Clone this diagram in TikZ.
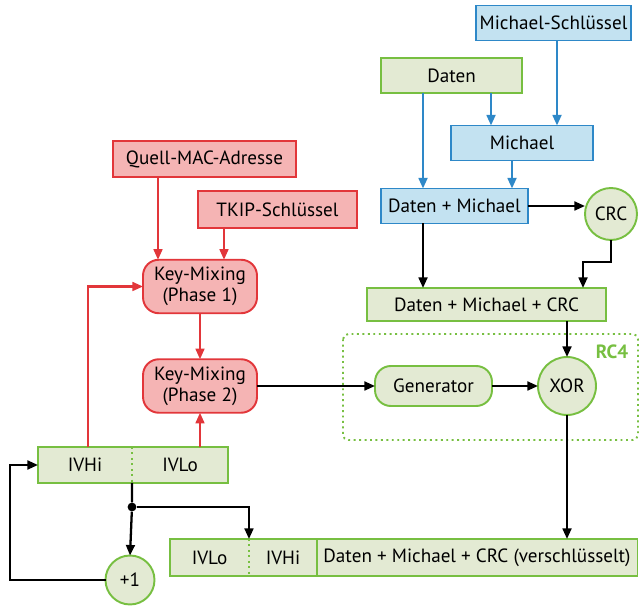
\documentclass[tikz,border=0pt]{standalone}
\usepackage{fontspec}
\setmainfont{PT Sans}
\usetikzlibrary{arrows.meta,calc}
\definecolor{rotrand}{HTML}{E2363A}
\definecolor{rotfill}{HTML}{F5B4B4}
\definecolor{blaurand}{HTML}{2E88C8}
\definecolor{blaufill}{HTML}{C3E2F1}
\definecolor{gruenrand}{HTML}{77BF41}
\definecolor{gruenfill}{HTML}{E3EAD3}
\tikzset{
  box-r/.style={draw=rotrand,fill=rotfill,line width=1.1pt,rectangle,inner sep=0pt,outer sep=0pt,minimum height=0.73cm},
  box-b/.style={draw=blaurand,fill=blaufill,line width=1.1pt,rectangle,inner sep=0pt,outer sep=0pt,minimum height=0.7cm},
  box-g/.style={draw=gruenrand,fill=gruenfill,line width=1.1pt,rectangle,inner sep=0pt,outer sep=0pt},
  mix-r/.style={box-r,rounded corners=9pt,minimum width=2.28cm,minimum height=1.07cm,align=center},
  gen-g/.style={box-g,rounded corners=9pt,minimum width=2.34cm,minimum height=0.8cm},
  circ-g/.style={draw=gruenrand,fill=gruenfill,line width=1.1pt,circle,inner sep=0pt,outer sep=0pt},
  cell-g/.style={fill=gruenfill,rectangle,inner sep=0pt,outer sep=0pt,minimum height=0.72cm},
  frame-g/.style={draw=gruenrand,line width=1.1pt},
  flow/.style={-{Triangle[length=6pt,width=5pt]},line width=1.3pt,black},
  flow-r/.style={-{Triangle[length=6pt,width=5pt]},line width=1.2pt,rotrand},
  flow-b/.style={-{Triangle[length=6pt,width=5pt]},line width=1.3pt,blaurand},
  dot/.style={circle,fill=black,inner sep=0pt,minimum size=5pt},
}

\begin{document}
\begin{tikzpicture}[x=0.02cm,y=-0.02cm,font=\fontsize{10.9}{12}\selectfont]
  \useasboundingbox (0,0) rectangle (639,607);

  % Michael-Pfad
  \node[box-b,minimum width=3.1cm] (msk)   at (553.5,23)  {Michael-Schlüssel};
  \node[box-g,minimum width=2.82cm,minimum height=0.7cm] (daten) at (451.5,75.5) {Daten};
  \node[box-b,minimum width=2.84cm] (mich)  at (522,143)   {Michael};
  \node[box-b,minimum width=2.94cm] (dm)    at (454.5,206) {Daten + Michael};
  \node[circ-g,minimum size=1.04cm] (crc)  at (611,214)   {CRC};
  \node[box-g,minimum width=4.78cm,minimum height=0.66cm] (dmc) at (486.5,304.5) {Daten + Michael + CRC};
  \draw[flow-b] (557,0 |- msk.south)   -- (557,0 |- mich.north);
  \draw[flow-b] (491,0 |- daten.south) -- (491,0 |- mich.north);
  \draw[flow-b] (423,0 |- daten.south) -- (423,0 |- dm.north);
  \draw[flow-b] (512,0 |- mich.south)  -- (512,0 |- dm.north);
  \draw[flow] (dm.east) -- (dm.east -| crc.west);
  \draw[flow] (423,0 |- dm.south) -- (423,0 |- dmc.north);
  \draw[flow] (crc.south) -- ++(0,22) -| (583,0 |- dmc.north);

  % RC4
  \draw[gruenrand,line width=1.1pt,dotted,rounded corners=3pt] (343,334) rectangle (638,440);
  \node[text=gruenrand,font=\fontsize{10.9}{12}\selectfont\bfseries] (rc4) at (612,352) {RC4};
  \node[gen-g] (gen) at (433.5,386) {Generator};
  \node[circ-g,minimum size=1.16cm] (xor) at (567,386) {XOR};
  \draw[flow] (567,0 |- dmc.south) -- (xor.north);
  \draw[flow] (gen.east) -- (xor.west);

  % Key-Mixing
  \node[box-r,minimum width=3.66cm] (mac)  at (204.5,159) {Quell-MAC-Adresse};
  \node[box-r,minimum width=3.18cm] (tkip) at (277.5,209.5) {TKIP-Schlüssel};
  \node[mix-r] (km1) at (200,286.5) {Key-Mixing\\(Phase 1)};
  \node[mix-r] (km2) at (200,386)   {Key-Mixing\\(Phase 2)};
  \draw[flow-r] (158,0 |- mac.south)  -- (158,0 |- km1.north);
  \draw[flow-r] (224,0 |- tkip.south) -- (224,0 |- km1.north);
  \draw[flow-r] (km1.south) -- (km2.north);
  \draw[flow] (km2.east) -- (gen.west);

  % IV-Zaehler
  \node[cell-g,minimum width=1.88cm] (ivhi) at (85,465)  {IVHi};
  \node[cell-g,minimum width=1.92cm] (ivlo) at (180,465) {IVLo};
  \draw[frame-g] (ivhi.north west) rectangle (ivlo.south east);
  \draw[frame-g,dotted] (ivhi.north east) -- (ivhi.south east);
  \draw[flow-r] (88,0 |- ivhi.north) |- (km1.west);
  \draw[flow-r] (km2.south |- ivlo.north) -- (km2.south);
  \node[dot] (jn) at (132,507) {};
  \node[circ-g,minimum size=0.98cm] (plus) at (130,580) {+1};
  \draw[line width=1.3pt] (ivhi.south east) -- (jn);
  \draw[flow] (jn) -- (plus.north);
  \draw[flow] (plus.west) -- (10,0 |- plus.west) |- (ivhi.west);

  % Ausgabe
  \node[cell-g,minimum width=1.58cm,minimum height=0.74cm] (ivlo2) at (209.5,557.5) {IVLo};
  \node[cell-g,minimum width=1.36cm,minimum height=0.74cm] (ivhi2) at (283,557.5)   {IVHi};
  \node[cell-g,minimum width=6.42cm,minimum height=0.74cm] (enc)   at (477,557.5)   {Daten + Michael + CRC (verschlüsselt)};
  \draw[frame-g] (ivlo2.north west) rectangle (enc.south east);
  \draw[frame-g,dotted] (ivlo2.north east) -- (ivlo2.south east);
  \draw[frame-g] (ivhi2.north east) -- (ivhi2.south east);
  \draw[flow] (jn) -| (ivlo2.north east);
  \draw[flow] (xor.south) -- (xor.south |- enc.north);

\end{tikzpicture}
\end{document}
